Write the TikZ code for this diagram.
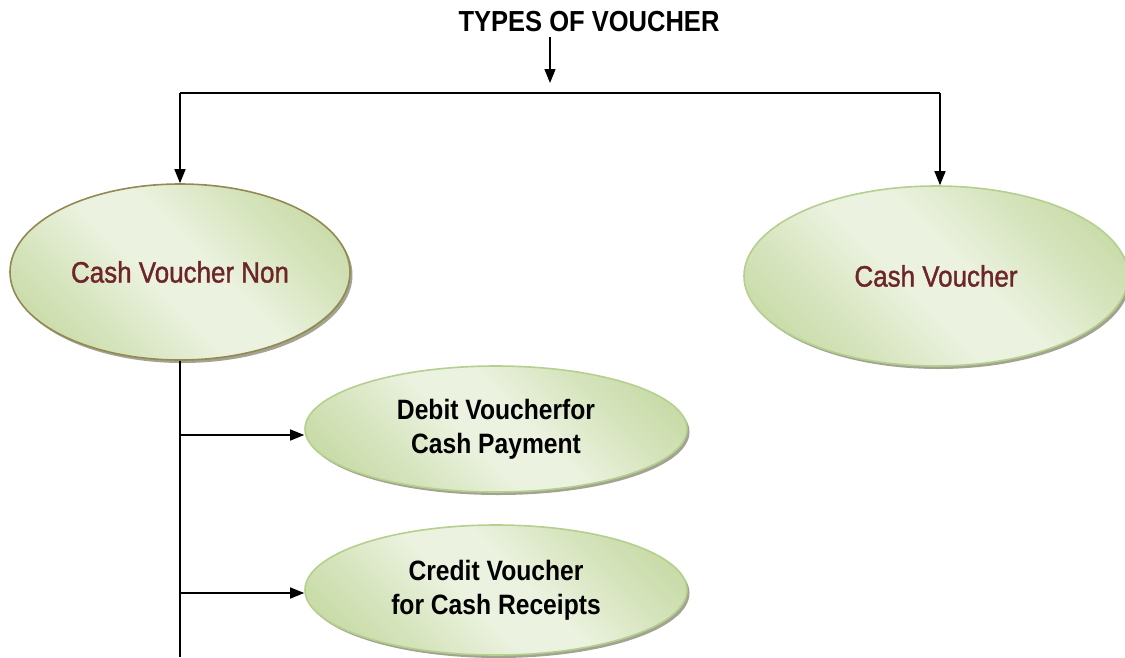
\documentclass[tikz,border=0pt]{standalone}
\usepackage{fontspec}
\setmainfont{Liberation Sans}[FakeStretch=0.88]
\newfontfamily\heavyfont{Liberation Sans}[FakeStretch=0.88, FakeBold=1.2]
\usetikzlibrary{shapes.geometric,arrows.meta,shadows}
\definecolor{leafdark}{HTML}{C3D79E}
\definecolor{leafmid}{HTML}{D6E4BD}
\definecolor{leaflight}{HTML}{EBF2DF}
\definecolor{olive}{HTML}{938953}
\definecolor{softgreen}{HTML}{B5D08E}
\definecolor{wine}{HTML}{6D2528}
\definecolor{shade}{HTML}{A3A392}
% diagonal band: light through the middle, darker towards two corners
\pgfdeclareverticalshading{leafband}{100bp}{%
  color(0bp)=(leafdark); color(18bp)=(leafdark); color(32bp)=(leafmid);
  color(45bp)=(leaflight); color(55bp)=(leaflight); color(68bp)=(leafmid);
  color(82bp)=(leafdark); color(100bp)=(leafdark)}
\tikzset{
  bubble/.style={ellipse, inner sep=0pt, align=center, line width=1.6pt,
    shading=leafband, shading angle=-45,
    copy shadow={shadow xshift=2.5pt, shadow yshift=-3pt, fill=shade, draw=none}},
  wire/.style={line width=1.4pt, black},
  arrow/.style={wire, -{Triangle[width=11pt,length=14pt]}},
  bigtext/.style={font=\heavyfont\fontsize{29.5}{34}\selectfont, text=wine},
  smalltext/.style={font=\bfseries\fontsize{28}{34}\selectfont, text=black}
}
\begin{document}
\begin{tikzpicture}[x=1pt,y=-1pt]
\useasboundingbox (0,0) rectangle (1125,657);
% title
\node[font=\bfseries\fontsize{29}{34}\selectfont] (title) at (589,22) {TYPES OF VOUCHER};
% voucher categories
\node[bubble, draw=olive, bigtext, minimum width=340pt, minimum height=176pt] (nc) at (180,272) {Cash Voucher Non};
\node[bubble, draw=softgreen, bigtext, minimum width=384pt, minimum height=180pt] (cv) at (936,276) {Cash Voucher};
\node[bubble, draw=softgreen, smalltext, minimum width=382pt, minimum height=126pt] (dv) at (496,429) {Debit Voucherfor\\Cash Payment};
\node[bubble, draw=softgreen, smalltext, minimum width=382pt, minimum height=130pt] (crv) at (496,590) {Credit Voucher\\for Cash Receipts};
% branch points
\coordinate (top) at (550,37);
\coordinate (hub) at (550,83);
\coordinate (barL) at (180,93);
\coordinate (barR) at (940,93);
\coordinate (stem) at (180,657);
\coordinate (j1) at (180,435);
\coordinate (j2) at (180,593);
% connectors
\draw[arrow] (top) -- (hub);
\draw[wire] (barL) -- (barR);
\draw[arrow] (barL) -- (barL |- nc.north);
\draw[arrow] (barR) -- (barR |- cv.north);
\draw[wire] (nc.south) -- (stem);
\draw[arrow] (j1) -- (j1 -| dv.west);
\draw[arrow] (j2) -- (j2 -| crv.west);
\end{tikzpicture}
\end{document}
